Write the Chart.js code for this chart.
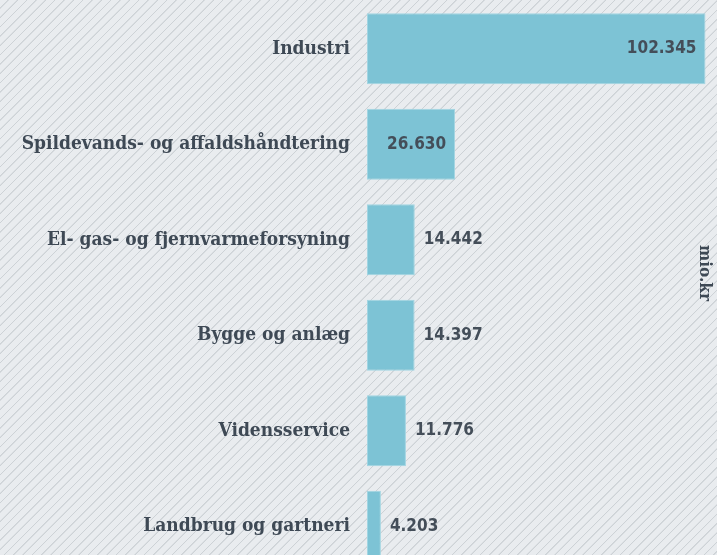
<!DOCTYPE html>
<html>
<head>
<meta charset="utf-8">
<script src="https://cdn.jsdelivr.net/npm/chart.js@4/dist/chart.umd.min.js"></script>
<style>
  html, body {
    margin: 0;
    padding: 0;
    overflow: hidden;
    width: 717px;
    height: 555px;
    background-color: #e9ecef;
    background-image: repeating-linear-gradient(135deg, #e9ecef 0px, #e9ecef 5.2px, #cdd2d6 5.6px, #cdd2d6 6.2px, #e9ecef 6.6px);
  }
  .wrap { position: relative; width: 717px; height: 574px; }
</style>
</head>
<body>
<div class="wrap"><canvas id="chart"></canvas></div>
<script>
const sectors = ['Industri', 'Spildevands- og affaldshåndtering', 'El- gas- og fjernvarmeforsyning', 'Bygge og anlæg', 'Vidensservice', 'Landbrug og gartneri'];
const values = [102345, 26630, 14442, 14397, 11776, 4203];
const unitLabel = 'mio.kr';

const labelColor = '#3e4955';
const barColor = '#7dc3d5';

// 102.345 style thousand separator
function fmt(v) {
  return String(v).replace(/\B(?=(\d{3})+(?!\d))/g, '.');
}

const valueLabels = {
  id: 'valueLabels',
  afterDatasetsDraw(chart) {
    const ctx = chart.ctx;
    const meta = chart.getDatasetMeta(0);
    ctx.save();
    ctx.font = 'bold 17px "DejaVu Sans Condensed", "DejaVu Sans", sans-serif';
    ctx.fillStyle = '#444e59';
    ctx.textBaseline = 'middle';
    meta.data.forEach((bar, i) => {
      const txt = fmt(values[i]);
      const w = ctx.measureText(txt).width;
      const barW = bar.x - bar.base;
      if (barW > w + 24) {
        ctx.textAlign = 'right';
        ctx.fillText(txt, bar.x - 9, bar.y);
      } else {
        ctx.textAlign = 'left';
        ctx.fillText(txt, bar.x + 9, bar.y);
      }
    });
    ctx.restore();
  }
};

const unitTitle = {
  id: 'unitTitle',
  afterDraw(chart) {
    const ctx = chart.ctx;
    ctx.save();
    ctx.translate(chart.chartArea.right - 13, 273);
    ctx.rotate(Math.PI / 2);
    ctx.font = 'bold 17px "DejaVu Serif Condensed", "DejaVu Serif", serif';
    ctx.fillStyle = labelColor;
    ctx.textAlign = 'center';
    ctx.textBaseline = 'middle';
    ctx.fillText(unitLabel, 0, 0);
    ctx.restore();
  }
};

new Chart(document.getElementById('chart'), {
  type: 'bar',
  data: {
    labels: sectors,
    datasets: [{
      data: values,
      backgroundColor: barColor,
      borderColor: '#a2d5e2',
      borderWidth: 1,
      borderSkipped: false,
      barPercentage: 0.743,
      categoryPercentage: 1
    }]
  },
  options: {
    indexAxis: 'y',
    responsive: true,
    maintainAspectRatio: false,
    animation: false,
    layout: { padding: { top: 1, right: 0, bottom: 0, left: 0 } },
    plugins: {
      legend: { display: false },
      tooltip: { enabled: false }
    },
    scales: {
      x: {
        display: false,
        min: 0,
        max: 105820
      },
      y: {
        grid: { display: false, drawTicks: false },
        border: { display: false },
        ticks: {
          color: labelColor,
          padding: 17,
          font: { family: '"DejaVu Serif Condensed", "DejaVu Serif", serif', size: 19, weight: 'bold' }
        },
        afterFit(scale) {
          scale.width = 367;
          scale.paddingTop = 0;
          scale.paddingBottom = 0;
        }
      }
    }
  },
  plugins: [valueLabels, unitTitle]
});
</script>
</body>
</html>
